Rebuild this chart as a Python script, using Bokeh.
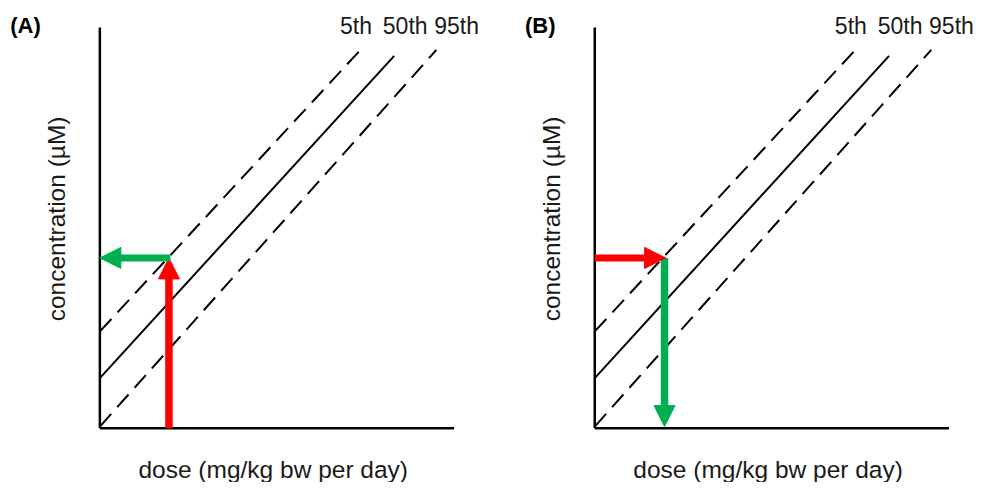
import math
from bokeh.plotting import figure
from bokeh.layouts import row
from bokeh.models import Range1d, Arrow, NormalHead, ColumnDataSource
from bokeh.core.properties import value
from bokeh.embed import file_html
from bokeh.resources import INLINE

# ---------------- data ----------------
percentiles = ["5th", "50th", "95th"]
line_start_dose = [0.0, 0.0, 0.0]
line_start_conc = [2.78, 1.44, 0.05]
line_end_dose = [7.33, 8.31, 9.50]
line_end_conc = [10.83, 10.69, 10.86]
label_dose = [7.23, 8.62, 10.07]
label_conc = [11.56, 11.56, 11.56]

axis_max_dose = 10.0
axis_max_conc = 11.5

target_conc = 4.89          # concentration read at the arrows
point_dose = [1.95, 1.97]   # dose where the arrows meet the 5th line (A, B)

panel_names = ["(A)", "(B)"]
x_label = "dose (mg/kg  bw per day)"
y_label = "concentration (\u00b5M)"

# ---------------- styling / layout ----------------
FONT = "Liberation Sans"
TXT = "#1a1a1a"
RED = "#ff0000"
GREEN = "#00b050"
dash_styles = ["17 9", "solid", "17 9"]

W, H = 488, 482
Y_RANGE = (-1.5556, 12.2778)
X_RANGES = [(-2.8056, 10.9722), (-3.0, 10.7778)]
PANEL_LABEL_X = [-2.53, -1.97]


def make_panel(idx):
    p = figure(width=W, height=H, output_backend="svg", toolbar_location=None,
               x_range=Range1d(*X_RANGES[idx]), y_range=Range1d(*Y_RANGE),
               min_border=0, min_border_left=0, min_border_right=0,
               min_border_top=0, min_border_bottom=0)
    p.axis.visible = False
    p.grid.visible = False
    p.outline_line_color = None
    p.background_fill_color = "white"
    p.border_fill_color = "white"

    # axes
    p.line([0, 0], [0, axis_max_conc], line_color="black", line_width=2.5)
    p.line([0, axis_max_dose], [0, 0], line_color="black", line_width=2.5)

    # percentile lines
    for i in range(len(percentiles)):
        p.line([line_start_dose[i], line_end_dose[i]],
               [line_start_conc[i], line_end_conc[i]],
               line_color="black", line_width=2, line_dash=dash_styles[i])

    src = ColumnDataSource(dict(x=label_dose, y=label_conc, t=percentiles))
    p.text(x="x", y="y", text="t", source=src, text_font=value(FONT),
           text_font_size=value("23px"), text_color=TXT,
           text_align="center", text_baseline="middle")

    # axis labels
    p.text(x=[4.99], y=[-1.18], text=[x_label], text_font=value(FONT),
           text_font_size=value("24.5px"), text_color=TXT,
           text_align="center", text_baseline="middle")
    p.text(x=[-1.22], y=[6.01], text=[y_label], angle=math.pi / 2,
           text_font=value(FONT), text_font_size=value("24.5px"), text_color=TXT,
           text_align="center", text_baseline="middle")

    # panel letter
    p.text(x=[PANEL_LABEL_X[idx]], y=[11.56], text=[panel_names[idx]],
           text_font=value(FONT), text_font_size=value("22px"),
           text_font_style="bold", text_color="black",
           text_align="left", text_baseline="middle")
    return p


pA = make_panel(0)
pB = make_panel(1)

# Panel A: dose -> concentration (red up), then green to axis
dA = point_dose[0]
pA.add_layout(Arrow(x_start=dA, y_start=0, x_end=dA, y_end=target_conc,
                    line_color=RED, line_width=7.5,
                    end=NormalHead(size=21, fill_color=RED, line_color=RED, line_width=1)))
pA.add_layout(Arrow(x_start=dA + 0.04, y_start=target_conc, x_end=0.0, y_end=target_conc,
                    line_color=GREEN, line_width=7,
                    end=NormalHead(size=21, fill_color=GREEN, line_color=GREEN, line_width=1)))

# Panel B: concentration -> dose (red right), then green down
dB = point_dose[1]
pB.add_layout(Arrow(x_start=dB, y_start=target_conc, x_end=dB, y_end=0.05,
                    line_color=GREEN, line_width=7.5,
                    end=NormalHead(size=21, fill_color=GREEN, line_color=GREEN, line_width=1)))
pB.add_layout(Arrow(x_start=0.0, y_start=target_conc, x_end=dB + 0.03, y_end=target_conc,
                    line_color=RED, line_width=7,
                    end=NormalHead(size=21, fill_color=RED, line_color=RED, line_width=1)))

layout = row(pA, pB)
open("out.html", "w").write(file_html(layout, INLINE))
